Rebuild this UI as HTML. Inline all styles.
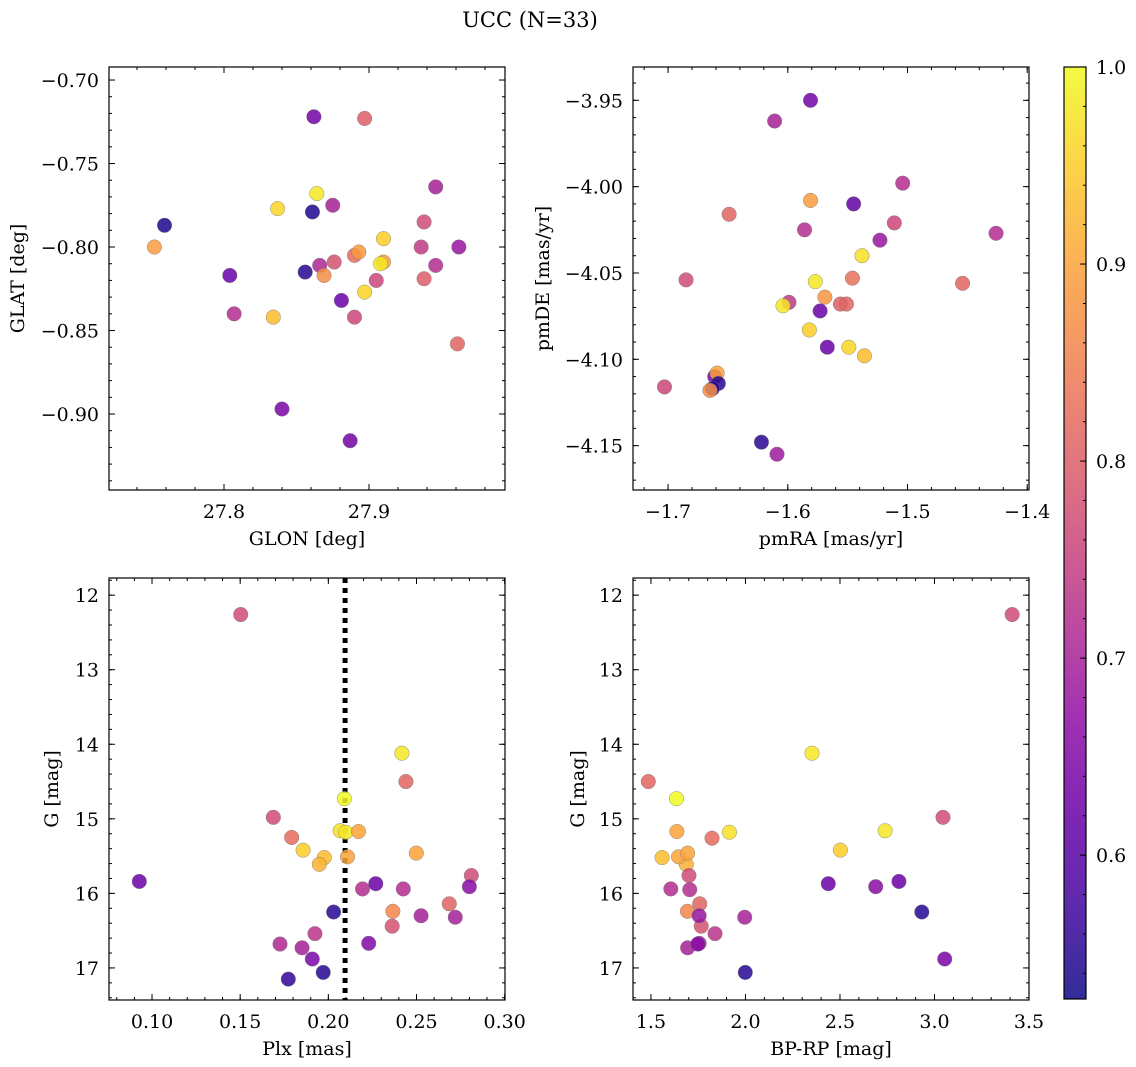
<!DOCTYPE html>
<html><head><meta charset="utf-8"><style>
html,body{margin:0;padding:0;background:#fff}
svg{display:block;font-family:"DejaVu Serif","Liberation Serif",serif}
</style></head><body>
<svg id="fig" width="1136" height="1067" viewBox="0 0 1136 1067" xmlns="http://www.w3.org/2000/svg">
<text x="530" y="27" font-size="21" text-anchor="middle">UCC (N=33)</text>
</svg>
<script>
// ---- data: top-left (GLON vs GLAT)
const tlGlon=[27.862,27.897,27.946,27.864,27.837,27.861,27.875,27.759,27.938,27.910,27.752,27.936,27.962,27.890,27.893,27.910,27.908,27.876,27.866,27.946,27.804,27.856,27.869,27.905,27.938,27.897,27.881,27.807,27.834,27.890,27.961,27.840,27.887];
const tlGlat=[-0.722,-0.723,-0.764,-0.768,-0.777,-0.779,-0.775,-0.787,-0.785,-0.795,-0.800,-0.800,-0.800,-0.805,-0.803,-0.809,-0.810,-0.809,-0.811,-0.811,-0.817,-0.815,-0.817,-0.820,-0.819,-0.827,-0.832,-0.840,-0.842,-0.842,-0.858,-0.897,-0.916];
const tlProb=[0.63,0.80,0.70,0.98,0.96,0.54,0.70,0.54,0.77,0.95,0.89,0.74,0.68,0.82,0.89,0.89,0.98,0.78,0.71,0.72,0.62,0.55,0.87,0.76,0.80,0.96,0.62,0.72,0.93,0.76,0.81,0.64,0.63];
// ---- top-right (pmRA vs pmDE)
const trPmra=[-1.581,-1.611,-1.504,-1.581,-1.545,-1.649,-1.511,-1.586,-1.426,-1.523,-1.538,-1.685,-1.577,-1.546,-1.454,-1.569,-1.599,-1.604,-1.556,-1.551,-1.573,-1.582,-1.567,-1.549,-1.536,-1.661,-1.659,-1.658,-1.663,-1.665,-1.703,-1.622,-1.609];
const trPmde=[-3.950,-3.962,-3.998,-4.008,-4.010,-4.016,-4.021,-4.025,-4.027,-4.031,-4.040,-4.054,-4.055,-4.053,-4.056,-4.064,-4.067,-4.069,-4.068,-4.068,-4.072,-4.083,-4.093,-4.093,-4.098,-4.110,-4.108,-4.114,-4.117,-4.118,-4.116,-4.148,-4.155];
const trProb=[0.63,0.70,0.72,0.89,0.61,0.81,0.76,0.72,0.72,0.68,0.97,0.77,0.98,0.83,0.81,0.88,0.74,0.98,0.80,0.81,0.62,0.95,0.62,0.96,0.93,0.63,0.90,0.55,0.55,0.87,0.76,0.55,0.69];
// ---- bottom-left (Plx vs G)
const blPlx=[0.1503,0.0928,0.2417,0.2440,0.2091,0.1688,0.1792,0.2067,0.2099,0.2171,0.1857,0.1977,0.1949,0.2109,0.2499,0.2811,0.2800,0.2194,0.2269,0.2425,0.2030,0.2366,0.2362,0.2686,0.2526,0.2720,0.1924,0.1726,0.1851,0.2229,0.1909,0.1971,0.1773];
const blG=[12.26,15.84,14.12,14.50,14.73,14.98,15.25,15.16,15.18,15.17,15.42,15.52,15.61,15.51,15.46,15.76,15.91,15.94,15.87,15.94,16.25,16.24,16.44,16.14,16.30,16.32,16.54,16.68,16.73,16.67,16.88,17.06,17.15];
const blProb=[0.77,0.62,0.98,0.81,1.0,0.77,0.82,0.97,0.98,0.90,0.95,0.93,0.92,0.90,0.90,0.77,0.66,0.72,0.62,0.72,0.55,0.86,0.78,0.81,0.70,0.70,0.73,0.71,0.70,0.65,0.64,0.55,0.56];
const plxLine=[0.2095];
// ---- bottom-right (BP-RP vs G)
const brColor=[3.411,2.352,1.486,1.635,3.045,1.823,1.915,2.739,1.637,2.502,1.559,1.687,1.646,1.694,1.701,2.812,2.689,1.605,2.438,1.705,2.933,1.693,1.766,1.758,1.755,1.996,1.839,1.755,1.694,1.748,3.054,1.999];
const brG=[12.26,14.12,14.50,14.73,14.98,15.26,15.18,15.16,15.17,15.42,15.52,15.61,15.51,15.46,15.76,15.84,15.91,15.94,15.87,15.95,16.25,16.24,16.44,16.14,16.30,16.32,16.54,16.67,16.73,16.68,16.88,17.06];
const brProb=[0.77,0.98,0.81,1.0,0.77,0.82,0.97,0.98,0.90,0.95,0.93,0.92,0.90,0.90,0.77,0.62,0.66,0.72,0.62,0.72,0.55,0.86,0.78,0.81,0.68,0.70,0.73,0.70,0.70,0.66,0.64,0.55];
// ---- tick labels
const tlXTicks=[27.8,27.9];const tlYTicks=[-0.70,-0.75,-0.80,-0.85,-0.90];
const trXTicks=[-1.7,-1.6,-1.5,-1.4];const trYTicks=[-3.95,-4.00,-4.05,-4.10,-4.15];
const blXTicks=[0.10,0.15,0.20,0.25,0.30];const gTicks=[12,13,14,15,16,17];
const brXTicks=[1.5,2.0,2.5,3.0,3.5];const cbTicks=[0.6,0.7,0.8,0.9,1.0];

const NS="http://www.w3.org/2000/svg";
const svg=document.getElementById('fig');
function mk(tag,attrs,parent){const e=document.createElementNS(NS,tag);for(const k in attrs)e.setAttribute(k,attrs[k]);(parent||svg).appendChild(e);return e;}
const stops=[[13,8,135],[65,4,157],[106,0,168],[143,13,164],[177,42,144],[204,71,120],[225,100,98],[242,132,75],[252,166,54],[252,206,37],[240,249,33]];
const VMIN=0.527,VMAX=1.0;
function plasma(v){let t=(v-VMIN)/(VMAX-VMIN);t=Math.max(0,Math.min(1,t))*10;const i=Math.min(9,Math.floor(t)),f=t-i;const a=stops[i],b=stops[i+1];return 'rgb('+[0,1,2].map(k=>Math.round(a[k]+(b[k]-a[k])*f)).join(',')+')';}
function minus(s){return s.replace('-','\u2212');}
const FS=19;

function panel(o){
  const g=mk('g',{});
  
  
  const X=v=>o.x0+(v-o.xmin)/(o.xmax-o.xmin)*(o.x1-o.x0);
  const Y=o.invert?(v=>o.y0+(v-o.ymin)/(o.ymax-o.ymin)*(o.y1-o.y0)):(v=>o.y1-(v-o.ymin)/(o.ymax-o.ymin)*(o.y1-o.y0));
  const tg=mk('g',{stroke:'#000','stroke-width':1},g);
  function xt(v,len){const x=X(v);if(x<o.x0-0.5||x>o.x1+0.5)return;mk('line',{x1:x,x2:x,y1:o.y1,y2:o.y1-len},tg);mk('line',{x1:x,x2:x,y1:o.y0,y2:o.y0+len},tg);}
  function yt(v,len){const y=Y(v);if(y<o.y0-0.5||y>o.y1+0.5)return;mk('line',{x1:o.x0,x2:o.x0+len,y1:y,y2:y},tg);mk('line',{x1:o.x1,x2:o.x1-len,y1:y,y2:y},tg);}
  const xs=o.xstep/o.xminor, ys=o.ystep/o.yminor;
  for(let k=Math.ceil(Math.min(o.xmin,o.xmax)/xs)-1;k*xs<=Math.max(o.xmin,o.xmax)+xs;k++)xt(k*xs,3);
  for(let k=Math.ceil(Math.min(o.ymin,o.ymax)/ys)-1;k*ys<=Math.max(o.ymin,o.ymax)+ys;k++)yt(k*ys,3);
  o.xticks.forEach(v=>{xt(v,6);const t=mk('text',{x:X(v),y:o.y1+28,'font-size':FS,'text-anchor':'middle'},g);t.textContent=minus(v.toFixed(o.xdec));});
  o.yticks.forEach(v=>{yt(v,6);const t=mk('text',{x:o.x0-10,y:Y(v)+7,'font-size':FS,'text-anchor':'end'},g);t.textContent=minus(v.toFixed(o.ydec));});
  if(o.vline){const x=X(o.vline[0]);const l=mk('line',{x1:x,x2:x,y1:o.y0,y2:o.y1,stroke:'#000','stroke-width':5,'stroke-dasharray':'5 5'},g);}
  const pg=mk('g',{},g);
  o.xs.forEach((xv,i)=>{const c=mk('circle',{cx:X(xv),cy:Y(o.ys[i]),r:7.3,fill:plasma(o.c[i]),'fill-opacity':0.85,stroke:'#777','stroke-width':0.4},pg);
    
    });
  mk('rect',{x:o.x0,y:o.y0,width:o.x1-o.x0,height:o.y1-o.y0,fill:'none',stroke:'#000','stroke-width':1.2},g);
  const xl=mk('text',{x:(o.x0+o.x1)/2,y:o.y1+55,'font-size':FS,'text-anchor':'middle'},g);xl.textContent=o.xlabel;
  
  const cy=(o.y0+o.y1)/2;const yl=mk('text',{x:o.ylx,y:cy,'font-size':FS,'text-anchor':'middle',transform:'rotate(-90 '+o.ylx+' '+cy+')'},g);yl.textContent=o.ylabel;
  
}
panel({name:'glon-glat-panel',x0:109,x1:505,y0:67,y1:490,xmin:27.7207,xmax:27.9938,ymin:-0.9455,ymax:-0.6922,xstep:0.1,xminor:5,ystep:0.05,yminor:5,xticks:tlXTicks,yticks:tlYTicks,xdec:1,ydec:2,xs:tlGlon,ys:tlGlat,c:tlProb,xlabel:'GLON [deg]',ylabel:'GLAT [deg]',ylx:24});
panel({name:'pm-panel',x0:633,x1:1029,y0:67,y1:490,xmin:-1.7293,xmax:-1.3985,ymin:-4.1757,ymax:-3.9307,xstep:0.1,xminor:5,ystep:0.05,yminor:5,xticks:trXTicks,yticks:trYTicks,xdec:1,ydec:2,xs:trPmra,ys:trPmde,c:trProb,xlabel:'pmRA [mas/yr]',ylabel:'pmDE [mas/yr]',ylx:549});
panel({name:'plx-g-panel',x0:109,x1:505,y0:578,y1:1000,xmin:0.0756,xmax:0.3002,ymin:11.77,ymax:17.43,invert:true,xstep:0.05,xminor:5,ystep:1,yminor:5,xticks:blXTicks,yticks:gTicks,xdec:2,ydec:0,xs:blPlx,ys:blG,c:blProb,xlabel:'Plx [mas]',ylabel:'G [mag]',ylx:58,vline:plxLine});
panel({name:'cmd-panel',x0:633,x1:1029,y0:578,y1:1000,xmin:1.405,xmax:3.5,ymin:11.77,ymax:17.43,invert:true,xstep:0.5,xminor:5,ystep:1,yminor:5,xticks:brXTicks,yticks:gTicks,xdec:1,ydec:0,xs:brColor,ys:brG,c:brProb,xlabel:'BP-RP [mag]',ylabel:'G [mag]',ylx:584});
(function(){
  const x0=1064,x1=1086,y0=67,y1=999;
  const CY=v=>y1-(v-VMIN)/(VMAX-VMIN)*(y1-y0);
  const g=mk('g',{});
  
  
  const defs=mk('defs',{},g);const lg=mk('linearGradient',{id:'cbg',x1:0,y1:1,x2:0,y2:0},defs);
  for(let i=0;i<=20;i++){const v=VMIN+(VMAX-VMIN)*i/20;mk('stop',{offset:(i/20),'stop-color':plasma(v),'stop-opacity':0.85},lg);}
  mk('rect',{x:x0,y:y0,width:x1-x0,height:y1-y0,fill:'url(#cbg)'},g);
  for(let v=0.54;v<=1.0001;v+=0.02){const y=CY(v);mk('line',{x1:x1,x2:x1-3,y1:y,y2:y,stroke:'#000'},g);}
  cbTicks.forEach(v=>{const y=CY(v);mk('line',{x1:x1,x2:x1-6,y1:y,y2:y,stroke:'#000'},g);const t=mk('text',{x:x1+10,y:y+7,'font-size':FS},g);t.textContent=v.toFixed(1);
    });
  mk('rect',{x:x0,y:y0,width:x1-x0,height:y1-y0,fill:'none',stroke:'#000','stroke-width':1.2},g);
})();
</script>
</body></html>
